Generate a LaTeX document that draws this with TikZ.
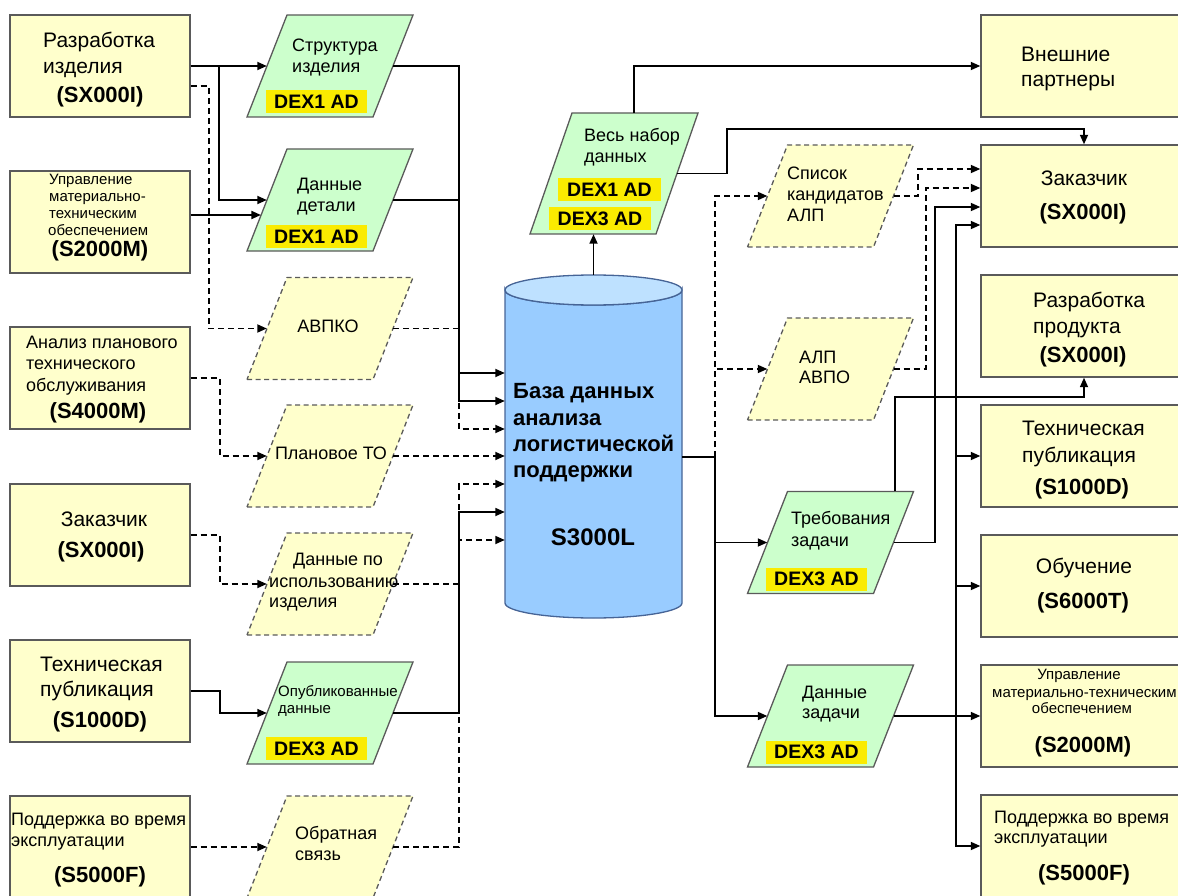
\documentclass[tikz,border=0pt]{standalone}
\usepackage{fontspec}
\setmainfont{Liberation Sans}
\usetikzlibrary{arrows.meta,calc}

\definecolor{boxfill}{RGB}{255,255,204}
\definecolor{boxline}{RGB}{90,90,90}
\definecolor{grn}{RGB}{204,255,204}
\definecolor{dexy}{RGB}{250,235,0}
\definecolor{dbbodyc}{RGB}{153,204,255}
\definecolor{dbtopc}{RGB}{190,225,255}
\definecolor{dblinec}{RGB}{70,100,150}

\tikzset{
 sbox/.style={draw=boxline, fill=boxfill, line width=1.4pt, minimum width=180, minimum height=102, inner sep=0},
 rbox/.style={sbox, minimum width=206},
 core/.style={draw=none, inner sep=0, minimum width=126},
 pgreen/.style={draw=boxline, fill=grn, line width=1.3pt},
 pdash/.style={draw=boxline, fill=boxfill, line width=1.3pt, dash pattern=on 5pt off 3.5pt},
 dex/.style={fill=dexy, inner sep=0, minimum width=101, minimum height=23, font=\fontsize{19.5}{22}\selectfont\bfseries},
 lbl/.style={inner sep=0, anchor=base west},
 lblc/.style={inner sep=0, anchor=base},
 fL/.style={font=\fontsize{21}{25}\selectfont},
 fM/.style={font=\fontsize{18}{21}\selectfont},
 fS/.style={font=\fontsize{15}{17}\selectfont},
 fB/.style={font=\fontsize{22}{26}\selectfont\bfseries},
 fDB/.style={font=\fontsize{22}{26}\selectfont\bfseries},
 fDS/.style={font=\fontsize{24}{28}\selectfont\bfseries},
 conn/.style={line width=1.7pt, draw=black},
 arr/.style={conn, -{Triangle[length=9.5pt,width=8pt]}},
 dconn/.style={conn, dash pattern=on 6pt off 4pt},
 darr/.style={dconn, -{Triangle[length=9.5pt,width=8pt]}},
}

% name, cx, cy, height, slant, style
\newcommand\drawpara[6]{%
 \path[#6] (#2-63-#5/2, #3+#4/2) -- (#2+63-#5/2, #3+#4/2) -- (#2+63+#5/2, #3-#4/2) -- (#2-63+#5/2, #3-#4/2) -- cycle;
 \node[core, minimum height=#4] (#1) at (#2,#3) {};
}

\begin{document}
\begin{tikzpicture}[x=1pt,y=-1pt]
\useasboundingbox (0,0) rectangle (1178,896);

% ---------- left boxes
\node[sbox] (b1) at (100,66) {};
\node[sbox] (b2) at (100,222) {};
\node[sbox] (b3) at (100,378) {};
\node[sbox] (b4) at (100,535) {};
\node[sbox] (b5) at (100,691) {};
\node[sbox] (b6) at (100,847) {};

% ---------- right boxes
\node[rbox] (r1) at (1084,66) {};
\node[rbox] (r2) at (1084,196) {};
\node[rbox] (r3) at (1084,326) {};
\node[rbox] (r4) at (1084,456) {};
\node[rbox] (r5) at (1084,586) {};
\node[rbox] (r6) at (1084,716) {};
\node[rbox] (r7) at (1084,846) {};

% ---------- parallelograms
\drawpara{p1}{330}{66}{102}{40}{pgreen}
\drawpara{p2}{330}{200}{102}{40}{pgreen}
\drawpara{p3}{330}{328.5}{102}{40}{pdash}
\drawpara{p4}{330}{456}{102}{40}{pdash}
\drawpara{p5}{330}{584}{102}{40}{pdash}
\drawpara{p6}{330}{713}{102}{40}{pgreen}
\drawpara{p7}{330}{847}{102}{40}{pdash}
\drawpara{all}{614}{173.5}{121}{42}{pgreen}
\drawpara{q1}{830.5}{196}{102}{40}{pdash}
\drawpara{q2}{830.5}{369}{102}{40}{pdash}
\drawpara{q3}{830.5}{542.5}{102}{40}{pgreen}
\drawpara{q4}{830.5}{716}{102}{40}{pgreen}

% ---------- database cylinder
\path[draw=dblinec, fill=dbbodyc, line width=1.3pt] (505,290) -- (505,603)
  arc[start angle=180, end angle=0, x radius=88.5, y radius=15] -- (682,290)
  arc[start angle=0, end angle=180, x radius=88.5, y radius=15] -- cycle;
\path[draw=dblinec, fill=dbtopc, line width=1.3pt] (593.5,290) ellipse [x radius=88.5, y radius=15];
\node[draw=none, inner sep=0, minimum width=177, minimum height=343] (db) at (593.5,446.5) {};

% ---------- texts: left boxes
\node[lbl,fL] (b1a) at (43,48) {Разработка};
\node[lbl,fL] (b1b) at (43,74) {изделия};
\node[lblc,fB] (b1c) at (100,103) {(SX000I)};

\node[lbl,fS] (b2a) at (49,185) {Управление};
\node[lbl,fS] (b2b) at (49,202) {материально-};
\node[lbl,fS] (b2c) at (49,219) {техническим};
\node[lbl,fS] (b2d) at (48,236) {обеспечением};
\node[lblc,fB] (b2e) at (100,257) {(S2000M)};

\node[lbl,fM] (b3a) at (26,348) {Анализ планового};
\node[lbl,fM] (b3b) at (26,369) {технического};
\node[lbl,fM] (b3c) at (26,391) {обслуживания};
\node[lblc,fB] (b3d) at (98,418) {(S4000M)};

\node[lblc,fL] (b4a) at (104,526) {Заказчик};
\node[lblc,fB] (b4b) at (101,557) {(SX000I)};

\node[lbl,fL] (b5a) at (40,671) {Техническая};
\node[lbl,fL] (b5b) at (40,696) {публикация};
\node[lblc,fB] (b5c) at (100,727) {(S1000D)};

\node[lbl,fM] (b6a) at (11,825) {Поддержка во время};
\node[lbl,fM] (b6b) at (11,846) {эксплуатации};
\node[lblc,fB] (b6c) at (100,882) {(S5000F)};

% ---------- texts: left parallelograms
\node[lbl,fM] (p1a) at (292,52) {Структура};
\node[lbl,fM] (p1b) at (292,73) {изделия};
\node[dex] (p1d) at (316.5,101.5) {DEX1 AD};

\node[lbl,fM] (p2a) at (297,191) {Данные};
\node[lbl,fM] (p2b) at (297,212) {детали};
\node[dex] (p2d) at (316.5,236.5) {DEX1 AD};

\node[lblc,fM] (p3a) at (328,332) {АВПКО};
\node[lblc,fM] (p4a) at (331,459) {Плановое ТО};

\node[lbl,fM] (p5a) at (293,565) {Данные по};
\node[lbl,fM] (p5b) at (269,587) {использованию};
\node[lbl,fM] (p5c) at (269,607) {изделия};

\node[lbl,fS] (p6a) at (278,696) {Опубликованные};
\node[lbl,fS] (p6b) at (278,713) {данные};
\node[dex] (p6d) at (316.5,748.5) {DEX3 AD};

\node[lbl,fM] (p7a) at (295,839) {Обратная};
\node[lbl,fM] (p7b) at (295,860) {связь};

% ---------- texts: full data set
\node[lbl,fM] (alla) at (584,142) {Весь набор};
\node[lbl,fM] (allb) at (584,163) {данных};
\node[dex, minimum width=103] (alld1) at (609.5,189.5) {DEX1 AD};
\node[dex, minimum width=102] (alld3) at (600,218.5) {DEX3 AD};

% ---------- texts: database
\node[lbl,fDB] (dba) at (513,398) {База данных};
\node[lbl,fDB] (dbb) at (513,425) {анализа};
\node[lbl,fDB] (dbc) at (513,451) {логистической};
\node[lbl,fDB] (dbd) at (513,477) {поддержки};
\node[lblc,fDS] (dbe) at (593,545) {S3000L};

% ---------- texts: right parallelograms
\node[lbl,fM] (q1a) at (787,180) {Список};
\node[lbl,fM] (q1b) at (787,201) {кандидатов};
\node[lbl,fM] (q1c) at (787,222) {АЛП};

\node[lbl,fM] (q2a) at (799,363) {АЛП};
\node[lbl,fM] (q2b) at (799,383) {АВПО};

\node[lbl,fM] (q3a) at (791,524) {Требования};
\node[lbl,fM] (q3b) at (791,546) {задачи};
\node[dex] (q3d) at (816.5,579) {DEX3 AD};

\node[lbl,fM] (q4a) at (802,698) {Данные};
\node[lbl,fM] (q4b) at (802,718) {задачи};
\node[dex] (q4d) at (816.5,752) {DEX3 AD};

% ---------- texts: right boxes
\node[lbl,fL] (r1a) at (1021,62) {Внешние};
\node[lbl,fL] (r1b) at (1021,87) {партнеры};

\node[lblc,fL] (r2a) at (1084,186) {Заказчик};
\node[lblc,fB] (r2b) at (1083,220) {(SX000I)};

\node[lbl,fL] (r3a) at (1033,307) {Разработка};
\node[lbl,fL] (r3b) at (1033,333) {продукта};
\node[lblc,fB] (r3c) at (1083,362) {(SX000I)};

\node[lbl,fL] (r4a) at (1022,435) {Техническая};
\node[lbl,fL] (r4b) at (1022,462) {публикация};
\node[lblc,fB] (r4c) at (1082,494) {(S1000D)};

\node[lblc,fL] (r5a) at (1084,573) {Обучение};
\node[lblc,fB] (r5b) at (1083,608) {(S6000T)};

\node[lblc,fS] (r6a) at (1079,679) {Управление};
\node[lbl,fS] (r6b) at (992,697) {материально-техническим};
\node[lblc,fS] (r6c) at (1082,713) {обеспечением};
\node[lblc,fB] (r6d) at (1083,752) {(S2000M)};

\node[lbl,fM] (r7a) at (994,823) {Поддержка во время};
\node[lbl,fM] (r7b) at (994,843) {эксплуатации};
\node[lblc,fB] (r7c) at (1084,880) {(S5000F)};

% ---------- connectors: sources to left parallelograms
\draw[arr] (b1.east) -- (p1.west);
\draw[arr] (b1.east) -- ++(28,0) |- (p2.west);
\draw[arr] ($(b2.east)+(0,-7)$) -- ($(p2.west)+(-5.9,15)$);
\draw[darr] ($(b1.east)+(0,20)$) -- ++(18,0) |- (p3.west);
\draw[darr] (b3.east) -- ++(29,0) |- (p4.west);
\draw[darr] (b4.east) -- ++(29,0) |- (p5.west);
\draw[arr] (b5.east) -- ++(29,0) |- (p6.west);
\draw[darr] (b6.east) -- (p7.west);

% ---------- connectors: left parallelograms to database (dashed first)
\draw[darr] (p3.east) -| ($(db.west)+(-46,-17.5)$) -- ($(db.west)+(0,-17.5)$);
\draw[darr] (p4.east) -- (p4.east -| db.west);
\draw[darr] (p5.east) -| ($(db.west)+(-46,37.5)$) -- ($(db.west)+(0,37.5)$);
\draw[darr] (p7.east) -| ($(db.west)+(-46,93.5)$) -- ($(db.west)+(0,93.5)$);
\draw[arr] (p1.east) -| ($(db.west)+(-46,-73.5)$) -- ($(db.west)+(0,-73.5)$);
\draw[arr] (p2.east) -| ($(db.west)+(-46,-45.5)$) -- ($(db.west)+(0,-45.5)$);
\draw[arr] (p6.east) -| ($(db.west)+(-46,65.5)$) -- ($(db.west)+(0,65.5)$);

% ---------- database outputs
\draw[arr] (db.north) -- (db.north |- all.south);
\draw[arr] ($(all.north)+(20,0)$) |- (r1.west);
\draw[arr] (all.east) -- ++(50,0) |- ($(r2.north)+(0,-15)$) -- (r2.north);

\coordinate (rb) at ($(db.east)+(33,10.5)$);
\draw[darr] (rb) |- (q1.west);
\draw[darr] (rb) |- (q2.west);
\draw[conn] ($(db.east)+(0,10.5)$) -- (rb);
\draw[arr] (rb) |- (q3.west);
\draw[arr] (rb) |- (q4.west);

% ---------- right parallelograms to consumers
\draw[darr] (q1.east) -- ++(24,0) |- ($(r2.west)+(0,-27)$);
\draw[darr] (q2.east) -- ++(32,0) |- ($(r2.west)+(0,-8)$);
\draw[arr] ($(q3.north)+(64.5,0)$) |- ($(r3.south)+(0,19)$) -- (r3.south);
\draw[arr] (q3.east) -- ++(41,0) |- ($(r2.west)+(0,11)$);
\draw[arr] (q4.east) -- (r6.west);
\coordinate (rj) at ($(q4.east)+(62.5,0)$);
\draw[arr] (rj) |- ($(r2.west)+(0,29)$);
\draw[arr] (rj) |- (r4.west);
\draw[arr] (rj) |- (r5.west);
\draw[arr] (rj) |- (r7.west);
\end{tikzpicture}
\end{document}
